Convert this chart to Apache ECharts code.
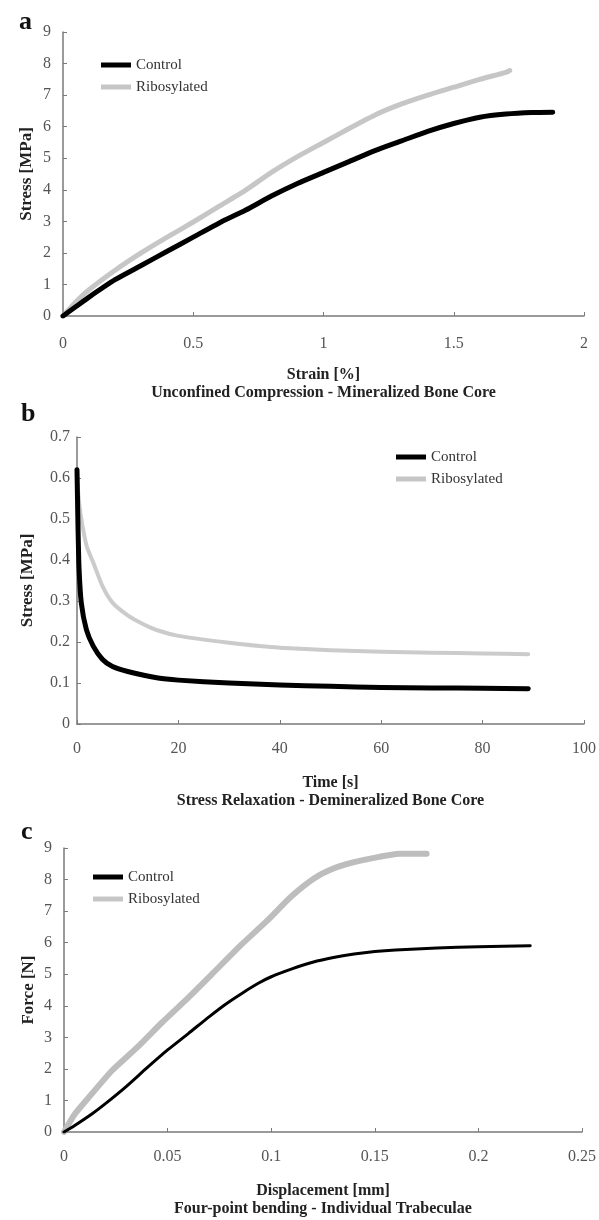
<!DOCTYPE html>
<html>
<head>
<meta charset="utf-8">
<script src="https://cdn.jsdelivr.net/npm/echarts@6/dist/echarts.min.js"></script>
<style>
  html, body { margin: 0; padding: 0; background: #fff; }
  #main { width: 599px; height: 1220px; }
</style>
</head>
<body>
<div id="main"></div>
<script>
// panel a - unconfined compression
const strainCtrl = [0, 0.05, 0.1, 0.2, 0.3, 0.4, 0.5, 0.6, 0.7, 0.8, 0.9, 1.0, 1.1, 1.2, 1.3, 1.4, 1.5, 1.6, 1.7, 1.8, 1.88];
const stressCtrl = [0, 0.3, 0.6, 1.15, 1.6, 2.05, 2.5, 2.95, 3.35, 3.8, 4.2, 4.55, 4.9, 5.25, 5.55, 5.85, 6.1, 6.3, 6.4, 6.45, 6.46];
const strainRib = [0, 0.05, 0.1, 0.2, 0.3, 0.4, 0.5, 0.6, 0.7, 0.8, 0.9, 1.0, 1.1, 1.2, 1.3, 1.4, 1.5, 1.6, 1.7, 1.715];
const stressRib = [0, 0.45, 0.83, 1.45, 2.0, 2.5, 2.98, 3.48, 3.98, 4.55, 5.05, 5.5, 5.95, 6.38, 6.72, 7.0, 7.25, 7.5, 7.72, 7.78];

// panel b - stress relaxation
const timeCtrl = [0, 0.1, 0.2, 0.4, 0.85, 1.85, 3.2, 5, 7, 10, 16, 20, 30, 40, 50, 60, 70, 80, 89];
const relaxCtrl = [0.62, 0.55, 0.48, 0.38, 0.295, 0.23, 0.19, 0.158, 0.14, 0.128, 0.112, 0.107, 0.1, 0.095, 0.092, 0.089, 0.088, 0.087, 0.086];
const timeRib = [0, 0.5, 1.2, 2, 3.2, 5, 7, 10, 13, 16, 20, 30, 36, 40, 50, 60, 70, 80, 89];
const relaxRib = [0.6, 0.53, 0.475, 0.43, 0.394, 0.337, 0.296, 0.265, 0.244, 0.228, 0.215, 0.198, 0.19, 0.186, 0.18, 0.176, 0.174, 0.172, 0.17];

// panel c - four-point bending
const dispCtrl = [0, 0.005, 0.0136, 0.02, 0.03, 0.04, 0.05, 0.06, 0.07, 0.078, 0.086, 0.094, 0.1, 0.11, 0.12, 0.13, 0.14, 0.15, 0.16, 0.18, 0.2, 0.225];
const forceCtrl = [0, 0.2, 0.58, 0.9, 1.44, 2.03, 2.6, 3.12, 3.65, 4.05, 4.4, 4.72, 4.92, 5.17, 5.38, 5.53, 5.64, 5.72, 5.77, 5.83, 5.87, 5.9];
const dispRib = [0, 0.005, 0.012, 0.0232, 0.0353, 0.0473, 0.06, 0.0721, 0.085, 0.0978, 0.1098, 0.121, 0.13, 0.14, 0.149, 0.162, 0.175];
const forceRib = [0, 0.55, 1.1, 1.95, 2.68, 3.47, 4.26, 5.05, 5.9, 6.68, 7.47, 8.05, 8.35, 8.55, 8.68, 8.82, 8.82];

const zip = (xs, ys) => xs.map((x, i) => [x, ys[i]]);

const serif = "Liberation Serif";
const axisColor = "#7a7a7a";

// 共用的坐标轴样式
function xAx(idx, min, max, interval, name, margin) {
  return {
    type: "value", gridIndex: idx, min: min, max: max, interval: interval,
    name: name, nameLocation: "middle", nameGap: 50,
    nameTextStyle: { fontFamily: serif, fontWeight: "bold", fontSize: 16, color: "#222", lineHeight: 18 },
    axisLine: { lineStyle: { color: axisColor, width: 1.5 } },
    axisTick: { inside: true, length: 4, lineStyle: { color: axisColor } },
    axisLabel: { fontFamily: serif, fontSize: 16, color: "#555", margin: margin },
    splitLine: { show: false },
  };
}
function yAx(idx, min, max, interval, name, gap, margin) {
  return {
    type: "value", gridIndex: idx, min: min, max: max, interval: interval,
    name: name, nameLocation: "middle", nameGap: gap, nameMoveOverlap: false,
    nameTextStyle: { fontFamily: serif, fontWeight: "bold", fontSize: 17, color: "#222" },
    axisLine: { show: true, lineStyle: { color: axisColor, width: 1.5 } },
    axisTick: { show: true, inside: true, length: 4, lineStyle: { color: axisColor } },
    axisLabel: { fontFamily: serif, fontSize: 16, color: "#555", margin: margin },
    splitLine: { show: false },
  };
}
function legendAt(left, top) {
  return {
    orient: "vertical", left: left, top: top,
    icon: "rect", itemWidth: 30, itemHeight: 5, itemGap: 6,
    textStyle: { fontFamily: serif, fontSize: 15, color: "#333", lineHeight: 16 },
    data: ["Control", "Ribosylated"],
  };
}
function line(name, data, xi, color, width) {
  return {
    name: name, type: "line", data: data, xAxisIndex: xi, yAxisIndex: xi,
    showSymbol: false, smooth: 0.2,
    lineStyle: { color: color, width: width, join: "round", cap: "round" }, itemStyle: { color: color },
  };
}

const chart = echarts.init(document.getElementById("main"));
const option = {
  backgroundColor: "#fff",
  animation: false,
  title: [
    { text: "a", left: 14, top: 4, textStyle: { fontFamily: serif, fontSize: 26, fontWeight: "bold", color: "#111" } },
    { text: "b", left: 16, top: 396, textStyle: { fontFamily: serif, fontSize: 26, fontWeight: "bold", color: "#111" } },
    { text: "c", left: 16, top: 814, textStyle: { fontFamily: serif, fontSize: 26, fontWeight: "bold", color: "#111" } },
  ],
  legend: [legendAt(96, 52), legendAt(391, 444), legendAt(88, 864)],
  grid: [
    { left: 63, right: 15, top: 32, height: 284 },
    { left: 77, right: 15, top: 437, height: 287 },
    { left: 64, right: 17, top: 848, height: 284 },
  ],
  xAxis: [
    xAx(0, 0, 2, 0.5, "Strain [%]\nUnconfined Compression - Mineralized Bone Core", 20),
    xAx(1, 0, 100, 20, "Time [s]\nStress Relaxation - Demineralized Bone Core", 17),
    xAx(2, 0, 0.25, 0.05, "Displacement [mm]\nFour-point bending - Individual Trabeculae", 17),
  ],
  yAxis: [
    yAx(0, 0, 9, 1, "Stress [MPa]", 28, 12),
    yAx(1, 0, 0.7, 0.1, "Stress [MPa]", 41, 7),
    yAx(2, 0, 9, 1, "Force [N]", 27, 12),
  ],
  series: [
    line("Ribosylated", zip(strainRib, stressRib), 0, "#c6c6c6", 5),
    line("Control", zip(strainCtrl, stressCtrl), 0, "#000", 5),
    line("Ribosylated", zip(timeRib, relaxRib), 1, "#cbcbcb", 4),
    line("Control", zip(timeCtrl, relaxCtrl), 1, "#000", 5),
    line("Ribosylated", zip(dispRib, forceRib), 2, "#bdbdbd", 6),
    line("Control", zip(dispCtrl, forceCtrl), 2, "#000", 3),
  ],
};
chart.setOption(option);
</script>
</body>
</html>
